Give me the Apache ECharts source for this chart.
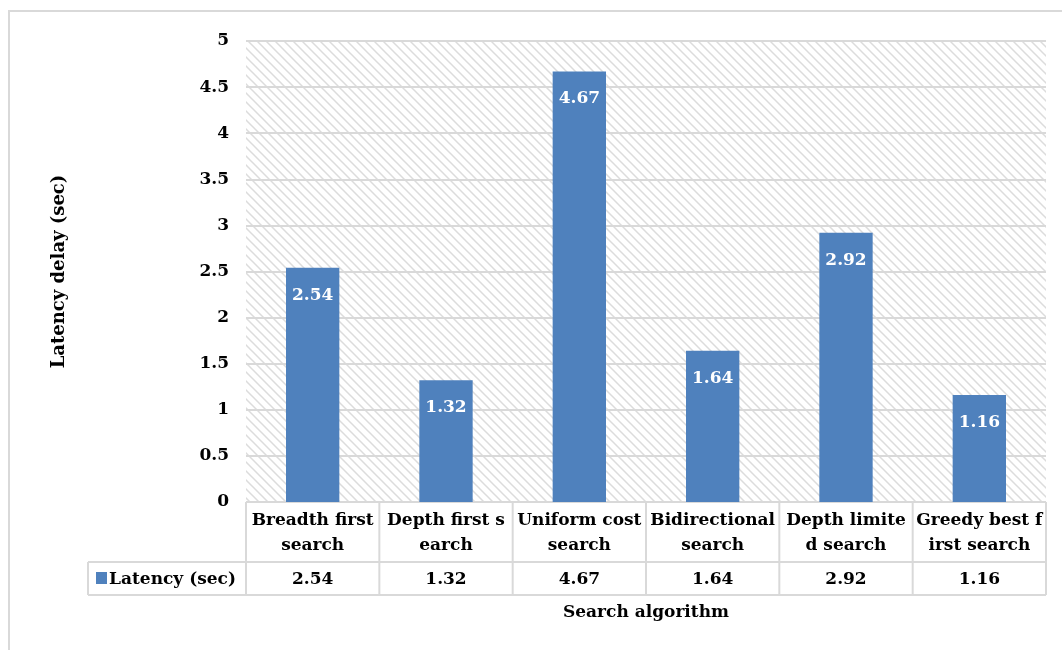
<!DOCTYPE html>
<html>
<head>
<meta charset="utf-8">
<script src="https://cdn.jsdelivr.net/npm/echarts@6/dist/echarts.min.js"></script>
<style>
  html, body { margin: 0; padding: 0; background: #fff; }
  #chart { width: 1062px; height: 650px; }
</style>
</head>
<body>
<div id="chart"></div>
<script>
// Search algorithms compared by latency
const categories = [
  'Breadth first\nsearch',
  'Depth first s\nearch',
  'Uniform cost\nsearch',
  'Bidirectional\nsearch',
  'Depth limite\nd search',
  'Greedy best f\nirst search'
];
const latency = [2.54, 1.32, 4.67, 1.64, 2.92, 1.16];
const seriesName = 'Latency (sec)';
const yAxisTitle = 'Latency delay (sec)';
const xAxisTitle = 'Search algorithm';
const yMin = 0, yMax = 5, yStep = 0.5;

const FONT = 'DejaVu Serif';
const FS = 17;
const BAR = '#4f81bd';
const LINE = '#d9d9d9';

// diagonal hatch used as the plot background
function hatch() {
  const s = 9;
  const c = document.createElement('canvas');
  c.width = s; c.height = s;
  const g = c.getContext('2d');
  g.fillStyle = '#ffffff';
  g.fillRect(0, 0, s, s);
  g.strokeStyle = '#dcdcdc';
  g.lineWidth = 1.5;
  g.beginPath();
  g.moveTo(-2, -2); g.lineTo(s + 2, s + 2);
  g.moveTo(-2, s - 2); g.lineTo(2, s + 2);
  g.moveTo(s - 2, -2); g.lineTo(s + 2, 2);
  g.stroke();
  return c;
}

const chart = echarts.init(document.getElementById('chart'), null, { renderer: 'canvas' });

const gridBox = { left: 246, right: 16, top: 41, bottom: 148 };

chart.setOption({
  animation: false,
  backgroundColor: '#ffffff',
  grid: Object.assign({ show: true, borderWidth: 0, backgroundColor: { image: hatch(), repeat: 'repeat' } }, gridBox),
  xAxis: {
    type: 'category',
    data: categories,
    name: xAxisTitle,
    nameLocation: 'middle',
    nameGap: 102,
    nameTextStyle: { fontFamily: FONT, fontWeight: 'bold', fontSize: FS, color: '#000' },
    axisLine: { show: false },
    axisTick: { show: false },
    axisLabel: {
      interval: 0,
      margin: 6,
      fontFamily: FONT, fontWeight: 'bold', fontSize: FS, color: '#000',
      lineHeight: 25
    }
  },
  yAxis: {
    type: 'value',
    min: yMin, max: yMax, interval: yStep,
    name: yAxisTitle,
    nameLocation: 'middle',
    nameGap: 178,
    nameRotate: 90,
    nameTextStyle: { fontFamily: FONT, fontWeight: 'bold', fontSize: 18, color: '#000' },
    axisLine: { show: false },
    axisTick: { show: false },
    splitLine: { lineStyle: { color: LINE, width: 2 } },
    axisLabel: {
      margin: 17,
      fontFamily: FONT, fontWeight: 'bold', fontSize: FS, color: '#000'
    }
  },
  series: [{
    name: seriesName,
    type: 'bar',
    data: latency,
    barWidth: '40%',
    itemStyle: { color: BAR },
    label: {
      show: true,
      position: 'insideTop',
      distance: 19,
      fontFamily: FONT, fontWeight: 'bold', fontSize: FS, color: '#fff'
    }
  }]
});

// data table beneath the plot, aligned to the category scale
function drawTable() {
  const n = categories.length;
  const top = chart.convertToPixel({ yAxisIndex: 0 }, yMin);
  const edges = [];
  for (let i = 0; i < n; i++) {
    const cx = chart.convertToPixel({ xAxisIndex: 0 }, i);
    const prev = i > 0 ? chart.convertToPixel({ xAxisIndex: 0 }, i - 1) : null;
    const next = i < n - 1 ? chart.convertToPixel({ xAxisIndex: 0 }, i + 1) : null;
    const half = next !== null ? (next - cx) / 2 : (cx - prev) / 2;
    if (i === 0) edges.push(cx - half);
    edges.push(cx + half);
  }
  const row1 = top + 60;
  const row2 = top + 93;
  const legendLeft = 88;
  const ls = { stroke: LINE, lineWidth: 2 };
  const els = [];
  // frame around the chart
  els.push({ type: 'rect', shape: { x: 9, y: 11, width: 1100, height: 700 }, style: { fill: null, stroke: '#d9d9d9', lineWidth: 2 }, silent: true });
  // horizontal rules
  els.push({ type: 'line', shape: { x1: edges[0], y1: top, x2: edges[n], y2: top }, style: ls });
  els.push({ type: 'line', shape: { x1: legendLeft, y1: row1, x2: edges[n], y2: row1 }, style: ls });
  els.push({ type: 'line', shape: { x1: legendLeft, y1: row2, x2: edges[n], y2: row2 }, style: ls });
  // vertical rules
  els.push({ type: 'line', shape: { x1: legendLeft, y1: row1, x2: legendLeft, y2: row2 }, style: ls });
  edges.forEach(x => {
    els.push({ type: 'line', shape: { x1: x, y1: top, x2: x, y2: row2 }, style: ls });
  });
  // legend key and series name
  els.push({ type: 'rect', shape: { x: 96, y: row1 + 10, width: 11, height: 12 }, style: { fill: BAR } });
  els.push({
    type: 'text', x: 109, y: (row1 + row2) / 2 + 1,
    style: { text: seriesName, fontFamily: FONT, fontWeight: 'bold', fontSize: 17, fill: '#000', textVerticalAlign: 'middle', textAlign: 'left' }
  });
  // values row
  latency.forEach((v, i) => {
    els.push({
      type: 'text', x: (edges[i] + edges[i + 1]) / 2, y: (row1 + row2) / 2 + 1,
      style: { text: v.toFixed(2), fontFamily: FONT, fontWeight: 'bold', fontSize: FS, fill: '#000', textAlign: 'center', textVerticalAlign: 'middle' }
    });
  });
  chart.setOption({ graphic: { elements: els } });
}
drawTable();
</script>
</body>
</html>
